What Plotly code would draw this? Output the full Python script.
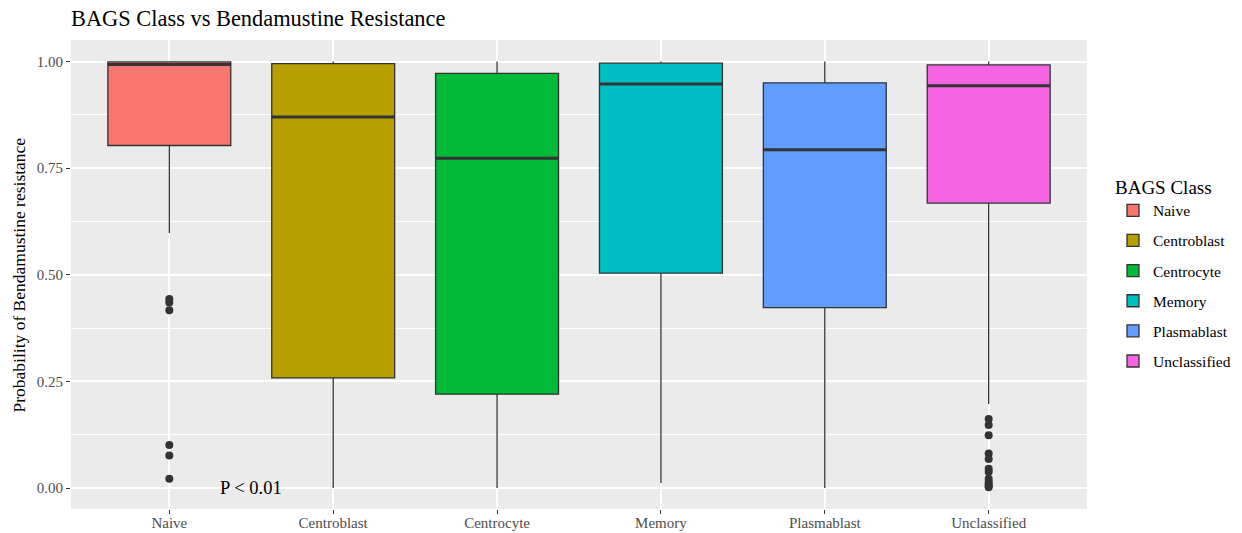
import plotly.graph_objects as go

# BAGS classes and their boxplot summaries (probability of bendamustine resistance)
classes = ["Naive", "Centroblast", "Centrocyte", "Memory", "Plasmablast", "Unclassified"]
colors = ["#F8766D", "#B79F00", "#00BA38", "#00BFC4", "#619CFF", "#F564E3"]

q1_vals = [0.803, 0.258, 0.220, 0.504, 0.423, 0.668]
median_vals = [0.993, 0.870, 0.773, 0.947, 0.793, 0.943]
q3_vals = [0.999, 0.995, 0.972, 0.996, 0.950, 0.992]
lower_whisker = [0.598, 0.000, 0.000, 0.012, 0.000, 0.197]
upper_whisker = [1.000, 1.000, 1.000, 1.000, 1.000, 1.000]

# Points beyond the whiskers
outliers = {
    "Naive": [0.443, 0.435, 0.417, 0.101, 0.076, 0.022],
    "Unclassified": [0.162, 0.148, 0.124, 0.081, 0.068, 0.045, 0.038,
                     0.022, 0.014, 0.009, 0.005, 0.002],
}

y_ticks = [0.0, 0.25, 0.5, 0.75, 1.0]
y_tick_labels = ["0.00", "0.25", "0.50", "0.75", "1.00"]

BOX_W = 0.75
INK = "#333333"
FONT = "Liberation Serif"

fig = go.Figure()

for i, cls in enumerate(classes):
    fig.add_trace(go.Box(
        x=[i], q1=[q1_vals[i]], median=[median_vals[i]], q3=[q3_vals[i]],
        lowerfence=[lower_whisker[i]], upperfence=[upper_whisker[i]],
        width=BOX_W, whiskerwidth=0, boxpoints=False,
        fillcolor=colors[i], line=dict(color=INK, width=1.3),
        name=cls, legendgroup=cls, hoverinfo="skip",
    ))

# thicker median bars, as in ggplot
for i, cls in enumerate(classes):
    fig.add_trace(go.Scatter(
        x=[i - BOX_W / 2, i + BOX_W / 2], y=[median_vals[i]] * 2,
        mode="lines", line=dict(color=INK, width=3),
        showlegend=False, hoverinfo="skip",
    ))

for cls, pts in outliers.items():
    i = classes.index(cls)
    fig.add_trace(go.Scatter(
        x=[i] * len(pts), y=pts, mode="markers",
        marker=dict(color=INK, size=8),
        showlegend=False, hoverinfo="skip",
    ))

fig.add_annotation(
    x=0.5, y=0.0, xref="x", yref="y", text="P < 0.01", showarrow=False,
    font=dict(family=FONT, size=18.5, color="black"), xanchor="center", yanchor="middle",
)

fig.add_annotation(
    x=-0.0512, y=0.5, xref="paper", yref="paper", xanchor="center", yanchor="middle",
    text="Probability of Bendamustine resistance", textangle=-90, showarrow=False,
    font=dict(family=FONT, size=17.5, color="black"),
)

fig.update_layout(
    width=1242, height=533,
    margin=dict(l=71, r=155, t=40, b=24, autoexpand=False),
    paper_bgcolor="white", plot_bgcolor="#EBEBEB",
    font=dict(family=FONT, color="black"),
    title=dict(
        text="BAGS Class vs Bendamustine Resistance",
        x=0.0, xref="paper", xanchor="left",
        y=1 - 18 / 533, yref="container", yanchor="middle",
        font=dict(family=FONT, size=22.4, color="black"),
    ),
    legend=dict(
        title=dict(text="BAGS Class", font=dict(family=FONT, size=19, color="black")),
        font=dict(family=FONT, size=15.5, color="black"),
        xref="container", yref="container",
        x=1113 / 1242, xanchor="left", y=1 - 169 / 533, yanchor="top",
        tracegroupgap=7, bgcolor="rgba(0,0,0,0)",
    ),
    showlegend=True,
)

fig.update_xaxes(
    range=[-0.6, 5.6], tickmode="array", tickvals=list(range(len(classes))),
    ticktext=classes, ticks="outside", ticklen=4, tickcolor=INK, tickwidth=1.3,
    tickfont=dict(family=FONT, size=15, color="#4D4D4D"), ticklabelstandoff=-4,
    showgrid=True, gridcolor="white", gridwidth=1.6, zeroline=False,
    showline=False, automargin=False,
)

fig.update_yaxes(
    range=[-0.0492, 1.0504], tickmode="array", tickvals=y_ticks, ticktext=y_tick_labels,
    ticks="outside", ticklen=4, tickcolor=INK, tickwidth=1.3,
    tickfont=dict(family=FONT, size=15, color="#4D4D4D"),
    showgrid=True, gridcolor="white", gridwidth=1.6, zeroline=False,
    minor=dict(tickmode="array", tickvals=[0.125, 0.375, 0.625, 0.875],
               showgrid=True, gridcolor="white", gridwidth=0.8, ticks=""),
    showline=False, automargin=False,
)

fig.write_html("out.html")
